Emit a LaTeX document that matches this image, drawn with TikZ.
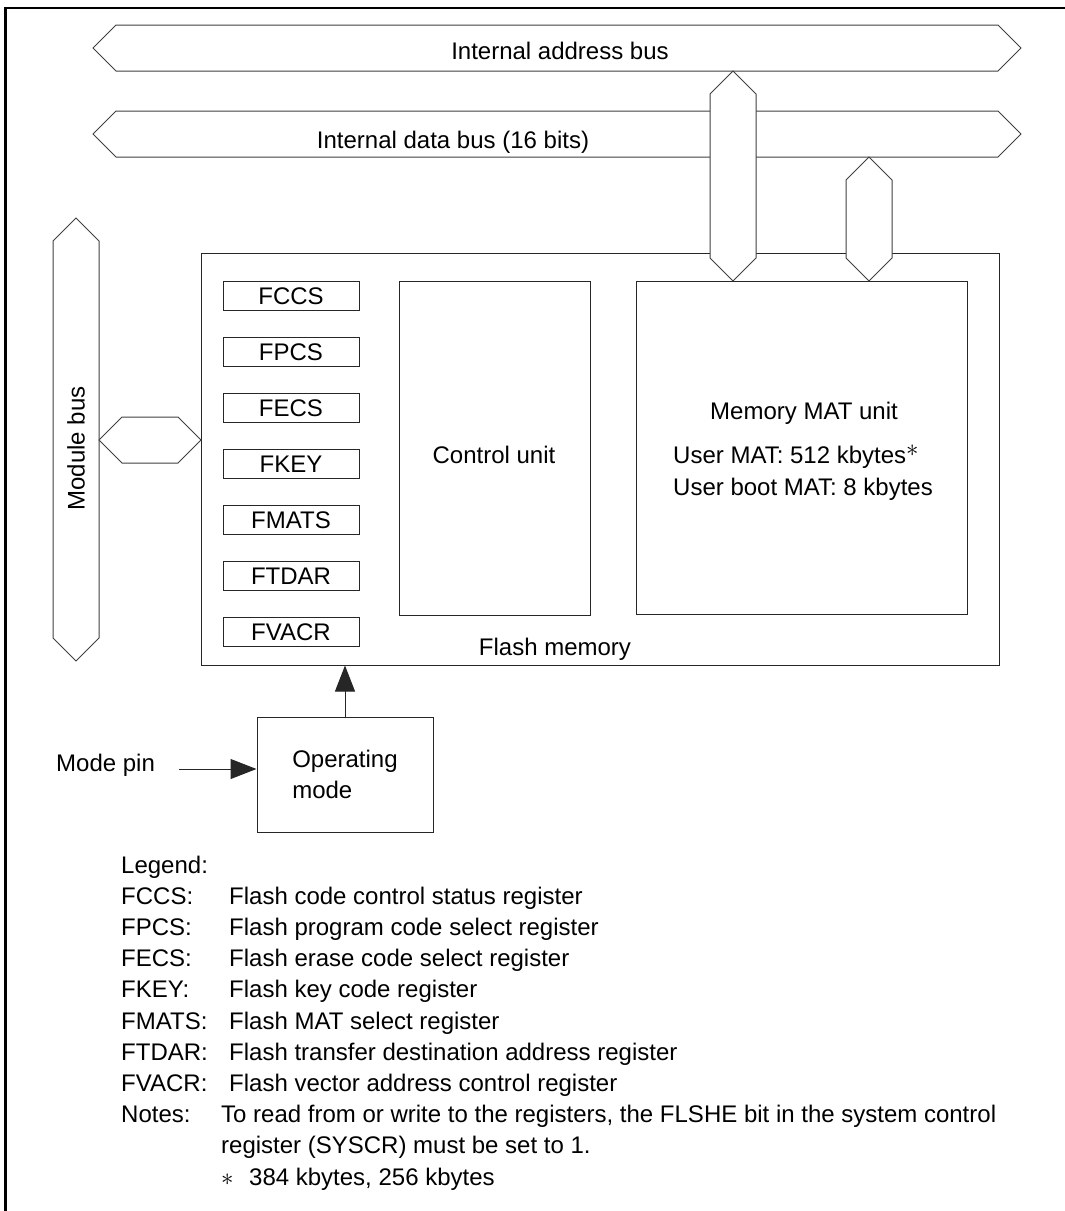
\documentclass[tikz,border=0pt]{standalone}
\usepackage{fontspec}
\setmainfont{Liberation Sans}
\usetikzlibrary{arrows.meta}

\newcommand{\diafont}{\fontsize{24}{31}\selectfont}

\begin{document}
\begin{tikzpicture}[
    x=1pt, y=-1pt,
    >={Triangle[length=26pt, width=20pt]},
    font=\diafont,
    frame/.style={draw=black, line width=2.5pt},
    bus/.style={draw=black!75, line width=1pt, fill=white, line join=miter},
    blk/.style={draw=black!85, line width=1pt, inner sep=0pt},
    reg/.style={blk, minimum width=136pt, minimum height=29pt},
    lbl/.style={inner sep=0pt, anchor=base},
    txt/.style={inner sep=0pt, anchor=base west},
    link/.style={draw=black!85, line width=1pt},
  ]

  \useasboundingbox (0,0) rectangle (1065,1211);

  % outer frame
  \draw[frame] (5.5,1211) -- (5.5,7.8) -- (1065,7.8);

  % internal buses
  \draw[bus] (93,48) -- (116,25) -- (998,25) -- (1021,48) -- (998,71) -- (116,71) -- cycle;
  \node[lbl] (addrlbl) at (560,59) {Internal address bus};
  \draw[bus] (93,134) -- (116,111) -- (998,111) -- (1021,134) -- (998,157) -- (116,157) -- cycle;
  \node[lbl] (datalbl) at (453,148) {Internal data bus (16 bits)};

  % flash memory block
  \node[blk, minimum width=798pt, minimum height=412pt] (flash) at (600,459) {};
  \node[lbl] (flashlbl) at (555,655) {Flash memory};

  \node[reg] (FCCS)  at (291,296) {FCCS};
  \node[reg] (FPCS)  at (291,352) {FPCS};
  \node[reg] (FECS)  at (291,408) {FECS};
  \node[reg] (FKEY)  at (291,464) {FKEY};
  \node[reg] (FMATS) at (291,520) {FMATS};
  \node[reg] (FTDAR) at (291,576) {FTDAR};
  \node[reg] (FVACR) at (291,632) {FVACR};

  \node[blk, minimum width=191pt, minimum height=334pt] (ctrl) at (494.5,448) {};
  \node[lbl] (ctrllbl) at (494,463) {Control unit};

  \node[blk, minimum width=331pt, minimum height=333pt] (mat) at (801.5,447.5) {};
  \node[lbl] (matlbl) at (804,419) {Memory MAT unit};
  \node[txt] (usermat) at (673,463) {User MAT: 512 kbytes\raisebox{6.5pt}{$\ast$}};
  \node[txt] (bootmat) at (673,495) {User boot MAT: 8 kbytes};

  % buses into the memory MAT
  \draw[bus] (733,71) -- (756,94) -- (756,258) -- (733,281) -- (710,258) -- (710,94) -- cycle;
  \draw[bus] (869,157) -- (892,180) -- (892,258) -- (869,281) -- (846,258) -- (846,180) -- cycle;

  % module bus
  \draw[bus] (76,218) -- (99,241) -- (99,638) -- (76,661) -- (53,638) -- (53,241) -- cycle;
  \node[rotate=90, inner sep=0pt] (modlbl) at (76,448.5) {Module bus};
  \draw[bus] (99,440) -- (122,417) -- (178,417) -- (201,440) -- (178,463) -- (122,463) -- cycle;

  % operating mode
  \node[blk, minimum width=176pt, minimum height=115pt, align=left] (opmode) at (345,774.5) {Operating\\mode};
  \node[txt] (modepin) at (56,771) {Mode pin};
  \coordinate (pinstart) at (179,769);
  \draw[link, ->] (pinstart) -- (pinstart -| opmode.west);
  \draw[link, ->] (opmode.north) -- (opmode.north |- flash.south);

  % legend
  \node[txt] (legend) at (121,873) {Legend:};
  \node[txt] (keyFCCS)  at (121,904.2)  {FCCS:};
  \node[txt] (descFCCS) at (229,904.2)  {Flash code control status register};
  \node[txt] (keyFPCS)  at (121,935.4)  {FPCS:};
  \node[txt] (descFPCS) at (229,935.4)  {Flash program code select register};
  \node[txt] (keyFECS)  at (121,966.6)  {FECS:};
  \node[txt] (descFECS) at (229,966.6)  {Flash erase code select register};
  \node[txt] (keyFKEY)  at (121,997.8)  {FKEY:};
  \node[txt] (descFKEY) at (229,997.8)  {Flash key code register};
  \node[txt] (keyFMATS) at (121,1029)   {FMATS:};
  \node[txt] (descFMATS) at (229,1029)  {Flash MAT select register};
  \node[txt] (keyFTDAR) at (121,1060.2) {FTDAR:};
  \node[txt] (descFTDAR) at (229,1060.2) {Flash transfer destination address register};
  \node[txt] (keyFVACR) at (121,1091.4) {FVACR:};
  \node[txt] (descFVACR) at (229,1091.4) {Flash vector address control register};

  % notes
  \node[txt] (notes)  at (121,1122.6) {Notes:};
  \node[txt] (note1)  at (221,1122.6) {To read from or write to the registers, the FLSHE bit in the system control};
  \node[txt] (note1b) at (221,1153.8) {register (SYSCR) must be set to 1.};
  \node[txt] (star)   at (221,1185)   {$\ast$};
  \node[txt] (note2)  at (249,1185)   {384 kbytes, 256 kbytes};

\end{tikzpicture}
\end{document}
